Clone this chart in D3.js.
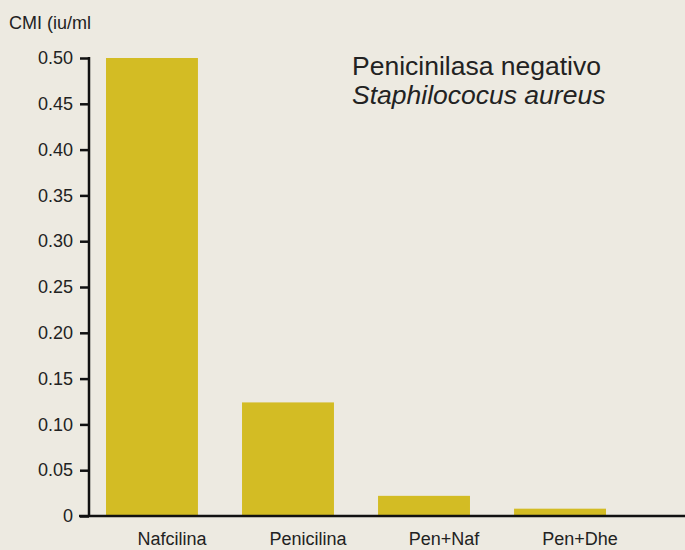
<!DOCTYPE html>
<html>
<head>
<meta charset="utf-8">
<script src="https://cdn.jsdelivr.net/npm/d3@7"></script>
<style>
  body { margin: 0; background: #edeae1; }
  svg { display: block; }
</style>
</head>
<body>
<div id="chart"></div>
<script>
// data
var drugs = ["Nafcilina", "Penicilina", "Pen+Naf", "Pen+Dhe"]
var cmi = [0.5, 0.124, 0.022, 0.008]
var yTicks = [0, 0.05, 0.10, 0.15, 0.20, 0.25, 0.30, 0.35, 0.40, 0.45, 0.50]
var titleLines = ["Penicinilasa negativo", "Staphilococus aureus"]
var yLabel = "CMI (iu/ml"

var width = 685, height = 550

var svg = d3.select("#chart")
    .append("svg")
    .attr("width", width)
    .attr("height", height)
    .style("font-family", "'Liberation Sans', Arial, sans-serif")

svg.append("rect")
    .attr("width", width)
    .attr("height", height)
    .attr("fill", "#edeae1")

// scales
var x = d3.scaleBand()
    .domain(drugs)
    .range([89, 623])
    .paddingInner(0.324)
    .paddingOuter(0.125)

var y = d3.scaleLinear()
    .domain([0, 0.5])
    .range([516, 58])

// bars
svg.selectAll("rect.bar")
    .data(drugs)
    .enter()
    .append("rect")
    .attr("class", "bar")
    .attr("x", function (d) { return x(d) })
    .attr("y", function (d, i) { return y(cmi[i]) })
    .attr("width", x.bandwidth())
    .attr("height", function (d, i) { return y(0) - y(cmi[i]) })
    .attr("fill", "#d3bc24")

// y axis
var yAxis = d3.axisLeft(y)
    .tickValues(yTicks)
    .tickSize(9)
    .tickPadding(7)
    .tickFormat(function (d) { return d === 0 ? "0" : d3.format(".2f")(d) })

var gy = svg.append("g")
    .attr("transform", "translate(89,0)")
    .call(yAxis)
gy.select(".domain")
    .attr("d", "M0," + (y(0.5) - 1) + "V" + (y(0) + 1))
    .attr("stroke", "#111")
    .attr("stroke-width", 2.5)
gy.selectAll(".tick line")
    .attr("stroke", "#111")
    .attr("stroke-width", 2.5)
gy.selectAll(".tick text")
    .attr("fill", "#222")
    .style("font-size", "18px")

// baseline
svg.append("line")
    .attr("x1", 79)
    .attr("x2", width)
    .attr("y1", y(0))
    .attr("y2", y(0))
    .attr("stroke", "#111")
    .attr("stroke-width", 2.5)

// category labels (sit a little right of the bar centres)
var xAxis = d3.axisBottom(x)
    .tickSize(0)
    .tickPadding(0)
var gx = svg.append("g")
    .attr("transform", "translate(20,531)")
    .call(xAxis)
gx.select(".domain").remove()
gx.selectAll(".tick text")
    .attr("fill", "#222")
    .attr("dy", "0.8em")
    .style("font-size", "18px")

// y label
svg.append("text")
    .attr("x", 9)
    .attr("y", 29)
    .attr("fill", "#222")
    .style("font-size", "18px")
    .text(yLabel)

// title
svg.selectAll("text.title")
    .data(titleLines)
    .enter()
    .append("text")
    .attr("class", "title")
    .attr("x", 352)
    .attr("y", function (d, i) { return 75 + i * 29 })
    .attr("fill", "#222")
    .style("font-size", "26.5px")
    .style("font-style", function (d, i) { return i == 1 ? "italic" : "normal" })
    .text(function (d) { return d })
</script>
</body>
</html>
